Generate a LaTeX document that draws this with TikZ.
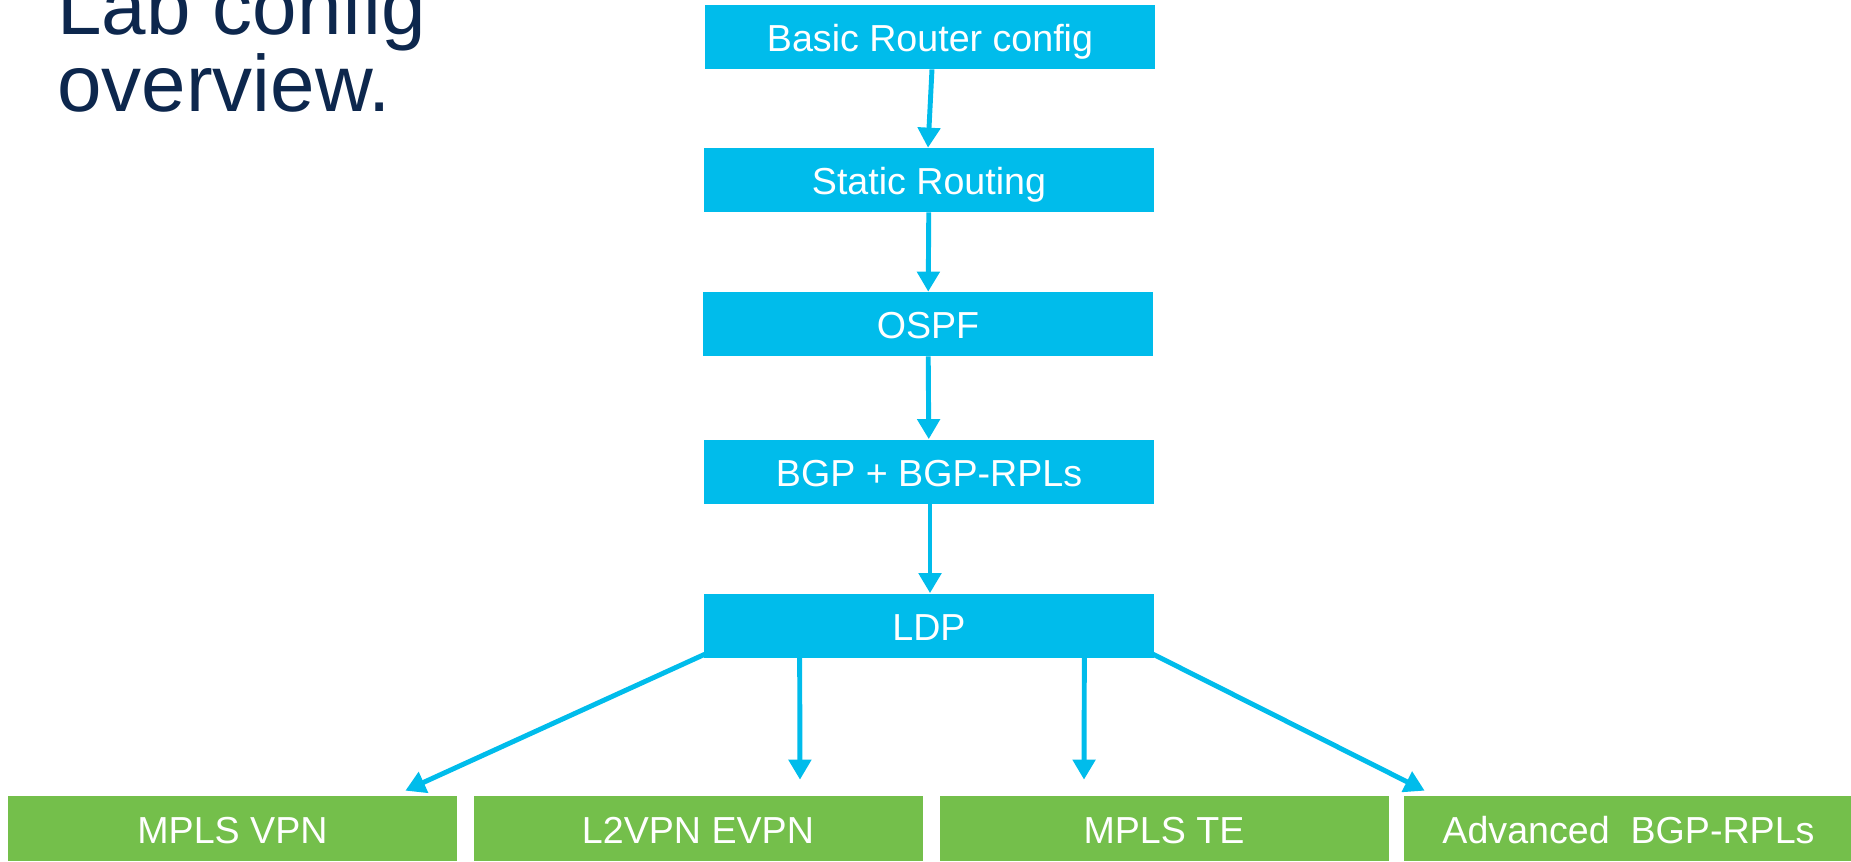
\documentclass[tikz,border=0pt]{standalone}
\usepackage{fontspec}
\setmainfont{Liberation Sans}
\usetikzlibrary{arrows.meta,positioning}
\definecolor{ciscoblue}{HTML}{00BCEB}
\definecolor{ciscogreen}{HTML}{74BF4B}
\definecolor{titlenavy}{HTML}{0D274D}
\begin{document}
\begin{tikzpicture}[%
                stepbox/.style={fill=ciscoblue,text=white,minimum width=9cm,minimum height=1.28cm,inner sep=0pt,
                                text height=19.8pt,text depth=3pt,font=\fontsize{21.4}{25}\selectfont},
                trackbox/.style={stepbox,fill=ciscogreen,minimum width=8.98cm,minimum height=1.3cm},
                flow/.style={draw=ciscoblue,line width=2.8pt,-{Triangle[width=0.44cm,length=0.4cm]}}
        ]
            \useasboundingbox (0,0) rectangle (37.02,-17.22);
            \node [anchor=base west,align=left,inner sep=0pt,text=titlenavy,
                   font=\fontsize{45.5}{39}\selectfont] (title) at (1.14,-2.22) {Lab config\\overview.};
            % main chain
            \node [stepbox] (basic) at (18.6,-0.74) {Basic Router config};
            \node [stepbox] (static) at (18.58,-3.6) {Static Routing};
            \node [stepbox] (ospf) at (18.56,-6.48) {OSPF};
            \node [stepbox] (bgp) at (18.58,-9.43) {BGP + BGP-RPLs};
            \node [stepbox] (ldp) at (18.58,-12.51) {LDP};
            % services
            \node [trackbox] (mplsvpn) at (4.65,-16.57) {MPLS VPN};
            \node [trackbox] (l2vpn) at (13.96,-16.57) {L2VPN EVPN};
            \node [trackbox] (mplste) at (23.28,-16.57) {MPLS TE};
            \node [trackbox] (advbgp) at (32.57,-16.57) {Advanced\ \ BGP-RPLs};
            \draw [flow] ([xshift=0.04cm]basic.south) -- ([xshift=-0.02cm]static.north);
            \draw [flow] (static) -- (ospf);
            \draw [flow] (ospf) -- (bgp);
            \draw [flow] ([xshift=0.02cm]bgp.south) -- ([xshift=0.02cm]ldp.north);
            \draw [flow] ([xshift=0.04cm,yshift=0.08cm]ldp.south west) -- ([xshift=-1.04cm,yshift=0.1cm]mplsvpn.north east);
            \draw [flow] ([xshift=1.92cm]ldp.south west) -- ([xshift=2.04cm,yshift=0.32cm]l2vpn.north);
            \draw [flow] ([xshift=-1.4cm]ldp.south east) -- ([xshift=-1.6cm,yshift=0.32cm]mplste.north);
            \draw [flow] ([xshift=-0.04cm,yshift=0.08cm]ldp.south east) -- ([xshift=0.42cm,yshift=0.1cm]advbgp.north west);
        \end{tikzpicture}
\end{document}
